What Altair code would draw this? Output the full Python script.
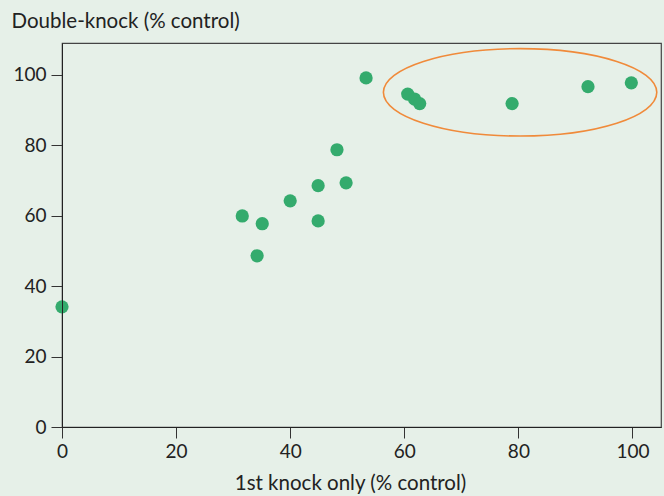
import altair as alt
import pandas as pd

first_knock = [0, 31.6, 35.1, 34.2, 40.0, 44.9, 44.9, 48.2, 49.8, 53.3, 60.6, 61.8, 62.7, 78.9, 92.2, 99.8]
double_knock = [34.1, 59.9, 57.7, 48.6, 64.2, 68.5, 58.5, 78.7, 69.3, 99.1, 94.5, 93.1, 91.8, 91.8, 96.6, 97.7]

ellipse_center_x = [80.3]
ellipse_center_y = [95.0]

x_ticks = [0, 20, 40, 60, 80, 100]
y_ticks = [0, 20, 40, 60, 80, 100]

df = pd.DataFrame({"x": first_knock, "y": double_knock})
ell = pd.DataFrame({"x": ellipse_center_x, "y": ellipse_center_y})

FONT = "Lato"
BG = "#e6f0e8"
LABEL_SIZE = 19
TITLE_SIZE = 20.5

x_enc = alt.X(
    "x:Q",
    scale=alt.Scale(domain=[0, 105], nice=False, zero=False),
    axis=alt.Axis(
        values=x_ticks, title="1st knock only (% control)", grid=False,
        domainColor="#222", tickColor="#333", tickSize=11, labelPadding=4,
        labelFlush=False,
        labelFontSize=LABEL_SIZE, labelFont=FONT, labelColor="#222",
        titleFontSize=TITLE_SIZE, titleFont=FONT, titleFontWeight="normal", titleColor="#222",
        titleX=288, titleY=62, titleAlign="center", titleBaseline="alphabetic",
        zindex=1,
    ),
)
y_enc = alt.Y(
    "y:Q",
    scale=alt.Scale(domain=[0, 109], nice=False, zero=False),
    axis=alt.Axis(
        values=y_ticks, title="Double-knock (% control)", grid=False,
        domainColor="#222", tickColor="#333", tickSize=11, labelPadding=5,
        labelFlush=False,
        labelFontSize=LABEL_SIZE, labelFont=FONT, labelColor="#222",
        titleFontSize=TITLE_SIZE, titleFont=FONT, titleFontWeight="normal", titleColor="#222",
        titleAngle=0, titleX=-51, titleY=-16, titleAlign="left", titleBaseline="alphabetic",
        zindex=1,
    ),
)

points = alt.Chart(df).mark_circle(size=175, opacity=1, color="#34ab6d").encode(x=x_enc, y=y_enc)

ellipse = alt.Chart(ell).mark_point(
    shape="M -1 0 A 1 0.32 0 1 0 1 0 A 1 0.32 0 1 0 -1 0",
    size=74750, filled=False, stroke="#f08a3a", strokeWidth=1.6, opacity=1,
).encode(x=alt.X("x:Q"), y=alt.Y("y:Q"))

chart = (
    alt.layer(points, ellipse)
    .properties(
        width=599, height=384, background=BG,
        autosize=alt.AutoSizeParams(type="none"),
        padding={"left": 62, "top": 43, "right": 3, "bottom": 69},
    )
    .configure_view(stroke="#444", strokeWidth=1.2)
)

chart.save("out.html", embed_options={"renderer": "svg", "actions": False})
